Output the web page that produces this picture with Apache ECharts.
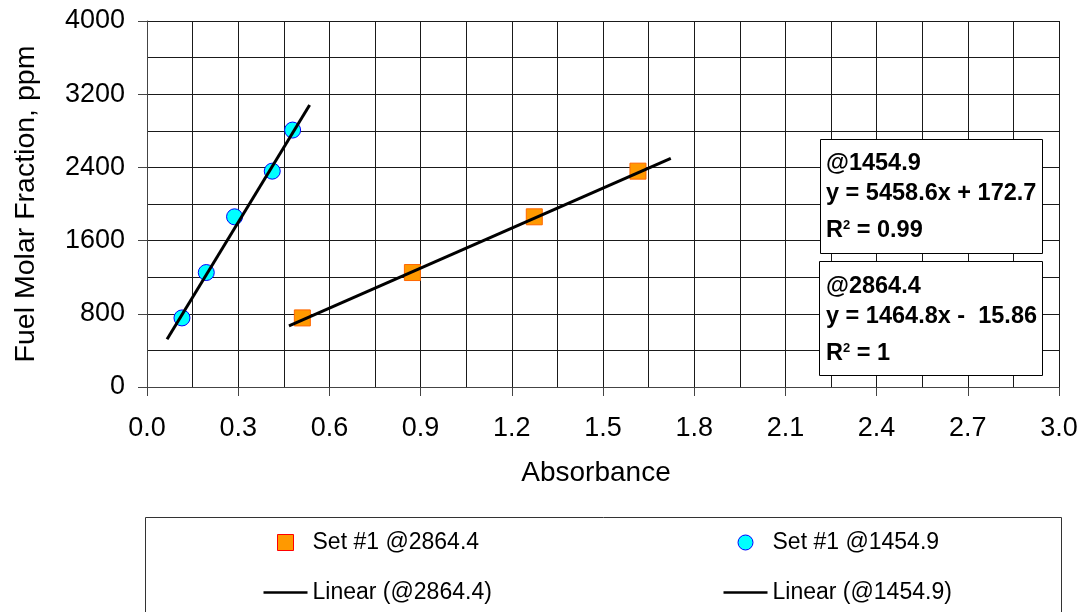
<!DOCTYPE html>
<html>
<head>
<meta charset="utf-8">
<script src="https://cdn.jsdelivr.net/npm/echarts@6/dist/echarts.min.js"></script>
<style>
html,body{margin:0;padding:0;background:#fff;}
#chart{width:1086px;height:612px;}
</style>
</head>
<body>
<div id="chart"></div>
<script>
// ---- data ----
const absorbance2864 = [0.511, 0.873, 1.274, 1.615];
const fuel2864 = [755, 1251, 1860, 2359];
const absorbance1454 = [0.115, 0.195, 0.288, 0.412, 0.479];
const fuel1454 = [755, 1251, 1860, 2359, 2808];
// trend line end points
const trend2864X = [0.467, 1.723];
const trend2864Y = [667, 2498];
const trend1454X = [0.066, 0.535];
const trend1454Y = [522, 3081];
// labels
const seriesNames = ['Set #1 @2864.4', 'Set #1 @1454.9', 'Linear (@2864.4)', 'Linear (@1454.9)'];
const xTitle = 'Absorbance';
const yTitle = 'Fuel Molar Fraction, ppm';
const box1Lines = ['@1454.9', 'y = 5458.6x + 172.7', '0.99'];
const box2Lines = ['@2864.4', 'y = 1464.8x -  15.86', '1'];

const pairs = (xs, ys) => xs.map((x, i) => [x, ys[i]]);
const FONT = '"Liberation Sans", Arial, sans-serif';

const squareIcon = 'path://M0,0 M44,16 M14,0 L30,0 L30,16 L14,16 Z';
const circleIcon = 'path://M0,0 M44,16 M14.5,8 A7.5,7.5 0 1 1 29.5,8 A7.5,7.5 0 1 1 14.5,8 Z';
const lineIcon = 'path://M0,0 M44,16 M0,6.75 L44,6.75 L44,9.25 L0,9.25 Z';

const chart = echarts.init(document.getElementById('chart'), null, {renderer: 'canvas'});

function eqBox(x, y, w, h, lines, ys) {
  return [
    {type: 'rect', shape: {x: x, y: y, width: w, height: h}, style: {fill: '#fff', stroke: '#000', lineWidth: 1}, z: 50},
    {type: 'text', x: 826, y: ys[0], z: 51, style: {text: lines[0], fontFamily: FONT, fontSize: 23.5, fontWeight: 'bold', fill: '#000', verticalAlign: 'middle'}},
    {type: 'text', x: 826, y: ys[1], z: 51, style: {text: lines[1], fontFamily: FONT, fontSize: 23.5, fontWeight: 'bold', fill: '#000', verticalAlign: 'middle'}},
    {type: 'text', x: 826, y: ys[2], z: 51, style: {text: 'R{s|2} = ' + lines[2], fontFamily: FONT, fontSize: 23.5, fontWeight: 'bold', fill: '#000', verticalAlign: 'middle',
      rich: {s: {fontFamily: FONT, fontSize: 13, fontWeight: 'bold', fill: '#000', verticalAlign: 'top', padding: [0, 0, 8, 0]}}}}
  ];
}

const legendCommon = {
  orient: 'vertical',
  itemWidth: 44,
  itemHeight: 16,
  itemGap: 27,
  selectedMode: false,
  textStyle: {fontFamily: FONT, fontSize: 23, color: '#000'},
  top: 526
};

const option = {
  animation: false,
  backgroundColor: '#fff',
  grid: {left: 147, right: 27, top: 21, bottom: 225, containLabel: false},
  xAxis: {
    type: 'value', min: 0, max: 3, interval: 0.3,
    name: xTitle, nameLocation: 'middle', nameGap: 72,
    nameTextStyle: {fontFamily: FONT, fontSize: 28, color: '#000', padding: [0, 14, 0, 0]},
    axisLine: {show: true, lineStyle: {color: '#444', width: 1}},
    axisTick: {show: true, length: 9, lineStyle: {color: '#444'}},
    axisLabel: {fontFamily: FONT, fontSize: 27, color: '#000', margin: 28, formatter: v => v.toFixed(1)},
    splitLine: {show: true, lineStyle: {color: '#1a1a1a', width: 1}},
    minorTick: {show: false, splitNumber: 2},
    minorSplitLine: {show: true, lineStyle: {color: '#1a1a1a', width: 1}}
  },
  yAxis: {
    type: 'value', min: 0, max: 4000, interval: 800,
    name: yTitle, nameLocation: 'middle', nameGap: 106,
    nameTextStyle: {fontFamily: FONT, fontSize: 28.5, color: '#000'},
    axisLine: {show: true, lineStyle: {color: '#444', width: 1}},
    axisTick: {show: true, length: 9, lineStyle: {color: '#444'}},
    axisLabel: {fontFamily: FONT, fontSize: 27, color: '#000', margin: 22, formatter: v => String(v)},
    splitLine: {show: true, lineStyle: {color: '#1a1a1a', width: 1}},
    minorTick: {show: false, splitNumber: 2},
    minorSplitLine: {show: true, lineStyle: {color: '#1a1a1a', width: 1}}
  },
  legend: [
    Object.assign({}, legendCommon, {left: 258, data: [
      {name: seriesNames[0], icon: squareIcon, itemStyle: {color: '#FF9900', borderColor: '#FF0000', borderWidth: 1}},
      {name: seriesNames[2], icon: lineIcon, itemStyle: {color: '#000', borderWidth: 0}}
    ]}),
    Object.assign({}, legendCommon, {left: 718, data: [
      {name: seriesNames[1], icon: circleIcon, itemStyle: {color: '#00FFFF', borderColor: '#0000FF', borderWidth: 1}},
      {name: seriesNames[3], icon: lineIcon, itemStyle: {color: '#000', borderWidth: 0}}
    ]})
  ],
  series: [
    {
      name: seriesNames[0], type: 'scatter', symbol: 'rect', symbolSize: 16, z: 2,
      itemStyle: {color: '#FF9900', borderColor: '#FF6600', borderWidth: 1, opacity: 1},
      data: pairs(absorbance2864, fuel2864)
    },
    {
      name: seriesNames[1], type: 'scatter', symbol: 'circle', symbolSize: 16, z: 2,
      itemStyle: {color: '#00FFFF', borderColor: '#0000FF', borderWidth: 1, opacity: 1},
      data: pairs(absorbance1454, fuel1454)
    },
    {
      name: seriesNames[2], type: 'line', symbol: 'none', z: 3,
      lineStyle: {color: '#000', width: 3}, itemStyle: {color: '#000'},
      data: pairs(trend2864X, trend2864Y)
    },
    {
      name: seriesNames[3], type: 'line', symbol: 'none', z: 3,
      lineStyle: {color: '#000', width: 3}, itemStyle: {color: '#000'},
      data: pairs(trend1454X, trend1454Y)
    }
  ],
  graphic: [
    {type: 'rect', shape: {x: 145.5, y: 517.5, width: 916, height: 130}, style: {fill: 'none', stroke: '#333', lineWidth: 1}, z: 1}
  ].concat(eqBox(820.5, 139.5, 222, 114, box1Lines, [164, 194, 231]))
   .concat(eqBox(819.5, 261.5, 223, 114, box2Lines, [286.5, 316.5, 354]))
};

chart.setOption(option);
</script>
</body>
</html>
